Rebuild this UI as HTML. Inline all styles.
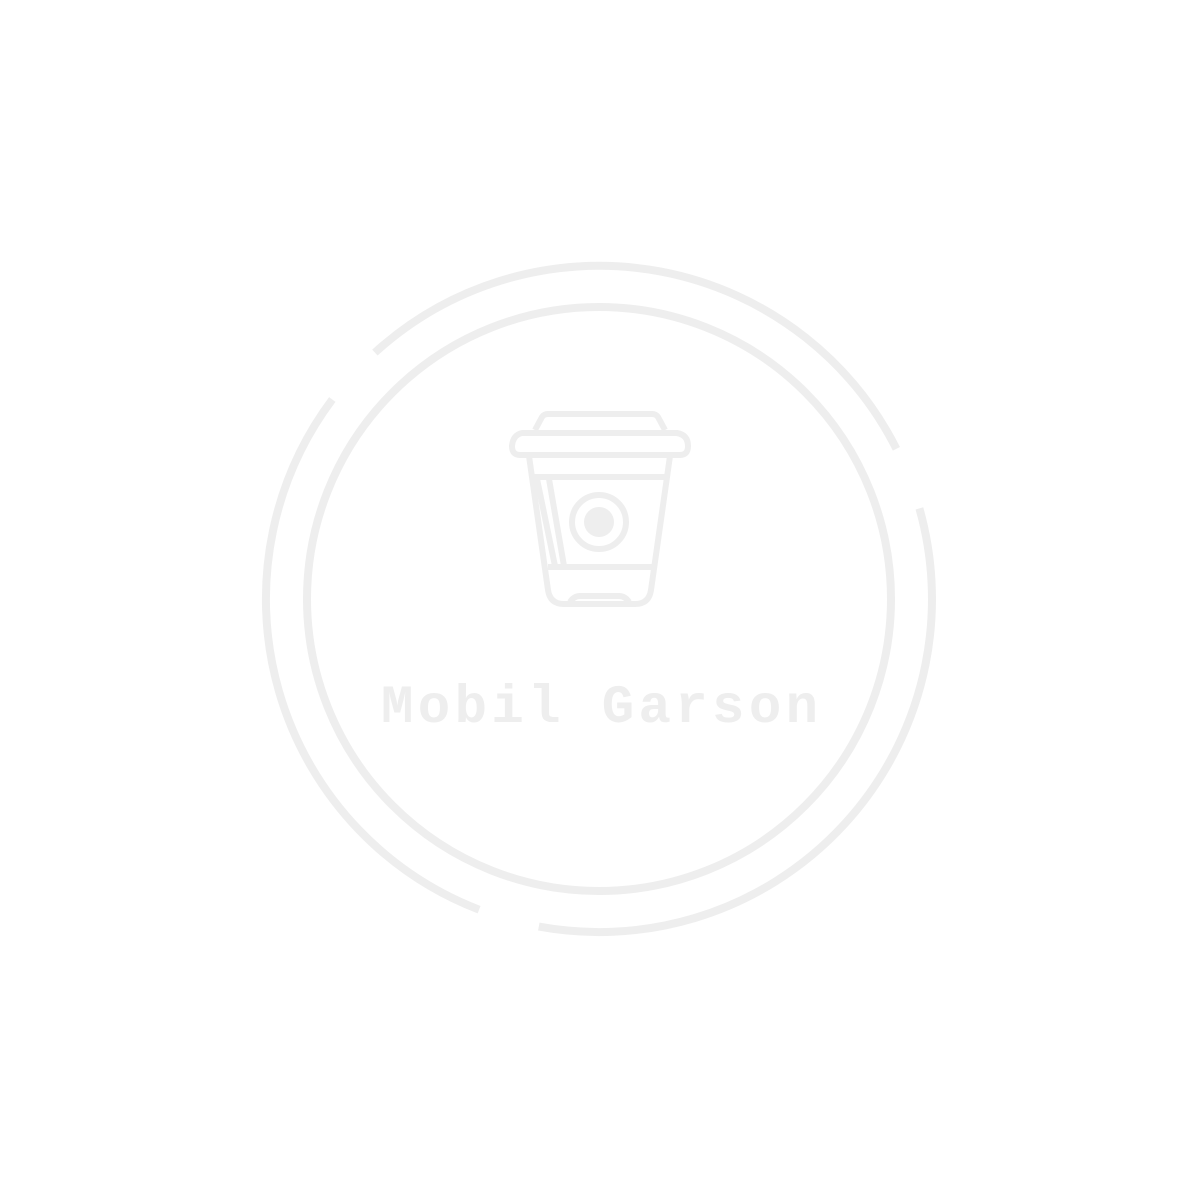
<!DOCTYPE html>
<html>
<head>
<meta charset="utf-8">
<style>
  html,body{margin:0;padding:0;background:#fff;}
  svg{display:block;}
</style>
</head>
<body>
<svg width="1200" height="1200" viewBox="0 0 1200 1200">
  <rect width="1200" height="1200" fill="#ffffff"/>
  <g fill="none" stroke="#eeeeee" stroke-width="8">
    <circle cx="599" cy="599" r="292"/>
    <path d="M374.9,352.6 A333,333 0 0 1 896.4,448.8"/>
    <path d="M919.4,508.4 A333,333 0 0 1 538.8,926.6"/>
    <path d="M479.1,909.7 A333,333 0 0 1 332.3,399.5"/>
  </g>
  <g fill="none" stroke="#eeeeee" stroke-width="6" stroke-linejoin="round">
    <path d="M535,430 L542,417 Q544,414 548,414 L652,414 Q656,414 658,417 L665,430"/>
    <path d="M522,433 L677,433 Q688,435 688,446 Q688,455 680,455 L520,455 Q512,455 512,446 Q513,435 522,433 Z"/>
    <path d="M529,456 L548,590 Q550,604 564,604 L635,604 Q649,604 651,590 L670,456"/>
    <line x1="532" y1="477" x2="667" y2="477"/>
    <line x1="548" y1="567" x2="652" y2="567"/>
    <line x1="537" y1="479" x2="555" y2="566"/>
    <line x1="549" y1="479" x2="564" y2="566"/>
    <circle cx="599" cy="522" r="27"/>
    <path d="M570,602 Q574,596 580,596 L619,596 Q625,596 629,602"/>
  </g>
  <circle cx="599" cy="522" r="15" fill="#eeeeee"/>
  <text x="381" y="722" textLength="437" lengthAdjust="spacing" font-family="'Liberation Mono', monospace" font-weight="bold" font-size="54" fill="#eeeeee">Mobil Garson</text>
</svg>
</body>
</html>
